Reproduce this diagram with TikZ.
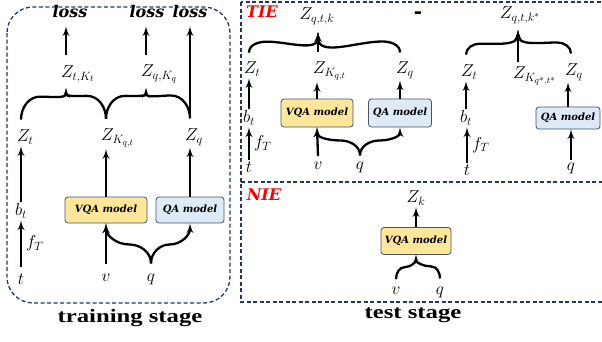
\documentclass[tikz,border=0pt]{standalone}
\usepackage{fontspec}
\setmainfont{Liberation Serif}
\newfontfamily\capfont{DejaVu Serif}
\newfontfamily\stagefont[FakeStretch=1.3]{Liberation Serif}
\usepackage{tikz}
\usetikzlibrary{arrows,positioning}
\DeclareMathSizes{17}{17}{12.5}{9.5}
\definecolor{framecol}{HTML}{203864}
\definecolor{boxcol}{HTML}{44546A}
\definecolor{vqacol}{HTML}{FFE699}
\definecolor{qacol}{HTML}{DEEBF7}
\tikzstyle{lbl}=[inner sep=1pt, font=\fontsize{17}{17}\selectfont]
\tikzstyle{zl}=[lbl, anchor=west, xshift=-7pt]
\tikzstyle{loss}=[inner sep=1pt, font=\capfont\fontsize{16}{16}\selectfont\bfseries\itshape]
\tikzstyle{tag}=[inner sep=1pt, text=red, font=\capfont\fontsize{16}{16}\selectfont\bfseries\itshape]
\tikzstyle{vqa}=[draw=boxcol, line width=0.8pt, fill=vqacol, rounded corners=3pt, minimum width=82pt, minimum height=26pt, inner sep=0pt, font=\capfont\fontsize{10}{10}\selectfont\bfseries\itshape]
\tikzstyle{qa}=[vqa, fill=qacol, minimum width=68pt]
\tikzstyle{frame}=[-, draw=framecol, line width=1.3pt, dash pattern=on 4pt off 2.5pt]
\tikzstyle{stage}=[inner sep=0pt, font=\stagefont\fontsize{19}{19}\selectfont\bfseries]

\begin{document}
\begin{tikzpicture}
[x=1pt, y=-1pt, ->, >=latex', line width=2.3pt]
\useasboundingbox (0,0) rectangle (602,341);

% training stage
\draw[frame, rounded corners=26pt] (7,7) rectangle (230,303);
\node[loss] (l1) at (70,12) {loss};
\node[loss] (l2) at (147,12) {loss};
\node[loss] (l3) at (190,12) {loss};
\coordinate (tip1) at (66,88);
\coordinate (tip2) at (146,88);
\node[zl] (ztk) at (66,74) {$Z_{t,K_t}$};
\node[zl] (zqk) at (146,74) {$Z_{q,K_q}$};
\node[zl] (zt) at (22,137) {$Z_t$};
\node[zl] (zkqt) at (106,138) {$Z_{K_{q,t}}$};
\node[zl] (zq) at (190,137) {$Z_q$};
\node[lbl] (bt) at (21,211) {$b_t$};
\node[vqa] (vqa) at (106,210) {VQA model};
\node[qa] (qa) at (190,210) {QA model};
\node[lbl] (t) at (21,279) {$t$};
\node[lbl] (v) at (106,278) {$v$};
\node[lbl] (q) at (151,279) {$q$};
\node[stage] (train) at (130,318) {training stage};

\draw[shorten >=6pt] (ztk.north -| tip1) ++(0,-8) -- (l1.south -| tip1);
\draw[shorten >=6pt] (zqk.north -| tip2) ++(0,-8) -- (l2.south -| tip2);
\draw[shorten >=6pt] (zq.north -| qa) ++(0,-8) -- (l3.south -| qa);
\draw (zt.north -| bt) ++(0,-8) to[out=90,in=180] ++(19,-23) to[out=0,in=-90] (tip1);
\draw (zkqt.north -| vqa) ++(0,-8) to[out=90,in=0] ++(-19,-23) to[out=180,in=-90] (tip1);
\draw (zkqt.north -| vqa) ++(0,-8) to[out=90,in=180] ++(19,-23) to[out=0,in=-90] (tip2);
\draw (zq.north -| qa) ++(0,-8) to[out=90,in=0] ++(-19,-23) to[out=180,in=-90] (tip2);
\draw (bt.north) -- (bt.north |- zt.south);
\draw (vqa.north) -- (vqa.north |- zkqt.south);
\draw (qa.north) -- (qa.north |- zq.south);
\draw (t.north) ++(0,-5) -- (t.north |- bt.south) node[midway, right, lbl, xshift=3pt] {$f_T$};
\draw (v.north) ++(0,-8) -- (vqa.south);
\draw (q.north) ++(0,-8) to[out=90,in=0] ++(-22,-19) to[out=180,in=-90] (vqa.south);
\draw (q.north) ++(0,-8) to[out=90,in=180] ++(19,-19) to[out=0,in=-90] (qa.south);

% test stage
\draw[frame] (241,2) rectangle (605,302);
\draw[frame] (241,182) -- (605,182);
\node[stage] (test) at (413,315) {test stage};

% TIE
\node[tag] (tie) at (262,12) {TIE};
\node[tag, text=black, font=\capfont\fontsize{20}{20}\selectfont\bfseries] (minus) at (418,15) {-};
\node[lbl] (zqtk) at (317,16) {$Z_{q,t,k}$};
\coordinate (tip3) at (318,32);
\node[zl] (zt2) at (249,69) {$Z_t$};
\node[zl] (zkqt2) at (318,71) {$Z_{K_{q,t}}$};
\node[zl] (zq2) at (401,70) {$Z_q$};
\node[lbl] (bt2) at (249,118) {$b_t$};
\node[vqa, minimum width=72pt, minimum height=28pt] (vqa2) at (317,113) {VQA model};
\node[qa, minimum width=63pt, minimum height=28pt] (qa2) at (400,113) {QA model};
\node[lbl] (t2) at (249,167) {$t$};
\node[lbl] (v2) at (318,166) {$v$};
\node[lbl] (q2) at (360,167) {$q$};

\draw (zt2.north -| bt2) ++(0,-7) to[out=90,in=180] ++(18,-11) to[out=0,in=-90] (tip3);
\draw (zq2.north -| qa2) ++(0,-7) to[out=90,in=0] ++(-18,-11) to[out=180,in=-90] (tip3);
\draw (zkqt2.north -| tip3) ++(0,-8) -- (tip3);
\draw (bt2.north) -- (bt2.north |- zt2.south);
\draw (vqa2.north) -- (vqa2.north |- zkqt2.south);
\draw (qa2.north) -- (qa2.north |- zq2.south);
\draw (t2.north) -- (t2.north |- bt2.south) node[midway, right, lbl, xshift=3pt] {$f_T$};
\draw (v2.north) ++(0,-4) -- (vqa2.south);
\draw (q2.north) ++(0,-4) to[out=90,in=0] ++(-20,-15) to[out=180,in=-90] (vqa2.south);
\draw (q2.north) ++(0,-4) to[out=90,in=180] ++(20,-15) to[out=0,in=-90] (qa2.south);

% TIE, k*
\node[lbl] (zqtk2) at (520,15) {$Z_{q,t,k^*}$};
\coordinate (tip4) at (518,30);
\node[zl] (zt3) at (466,72) {$Z_t$};
\node[zl] (zk3) at (518,76) {$Z_{K_{q^*,t^*}}$};
\node[zl] (zq3) at (570,72) {$Z_q$};
\node[lbl] (bt3) at (466,118) {$b_t$};
\node[qa, minimum width=64pt, minimum height=22pt] (qa3) at (568,118) {QA model};
\node[lbl] (t3) at (467,170) {$t$};
\node[lbl] (q3) at (571,168) {$q$};

\draw (zt3.north -| bt3) ++(0,-8) to[out=90,in=180] ++(14,-11) to[out=0,in=-90] (tip4);
\draw (zq3.north -| q3) ++(0,-8) to[out=90,in=0] ++(-14,-11) to[out=180,in=-90] (tip4);
\draw (zk3.north -| tip4) ++(0,-2) -- (tip4);
\draw (bt3.north) -- (bt3.north |- zt3.south);
\draw (t3.north) -- (t3.north |- bt3.south) node[midway, right, lbl, xshift=3pt] {$f_T$};
\draw (qa3.north) -- (qa3.north |- zq3.south);
\draw (q3.north) -- (q3.north |- qa3.south);

% NIE
\node[tag] (nie) at (264,195) {NIE};
\node[lbl] (zk) at (416,198) {$Z_k$};
\node[vqa, minimum width=70pt, minimum height=27pt] (vqa3) at (416,241) {VQA model};
\node[lbl] (vn) at (396,291) {$v$};
\node[lbl] (qn) at (440,292) {$q$};
\draw (vqa3.north) -- (vqa3.north |- zk.south);
\draw (vn.north) ++(0,-6) to[out=90,in=180] ++(9,-12) to[out=0,in=-90] (vqa3.south);
\draw (qn.north) ++(0,-6) to[out=90,in=0] ++(-9,-12) to[out=180,in=-90] (vqa3.south);
\end{tikzpicture}
\end{document}
